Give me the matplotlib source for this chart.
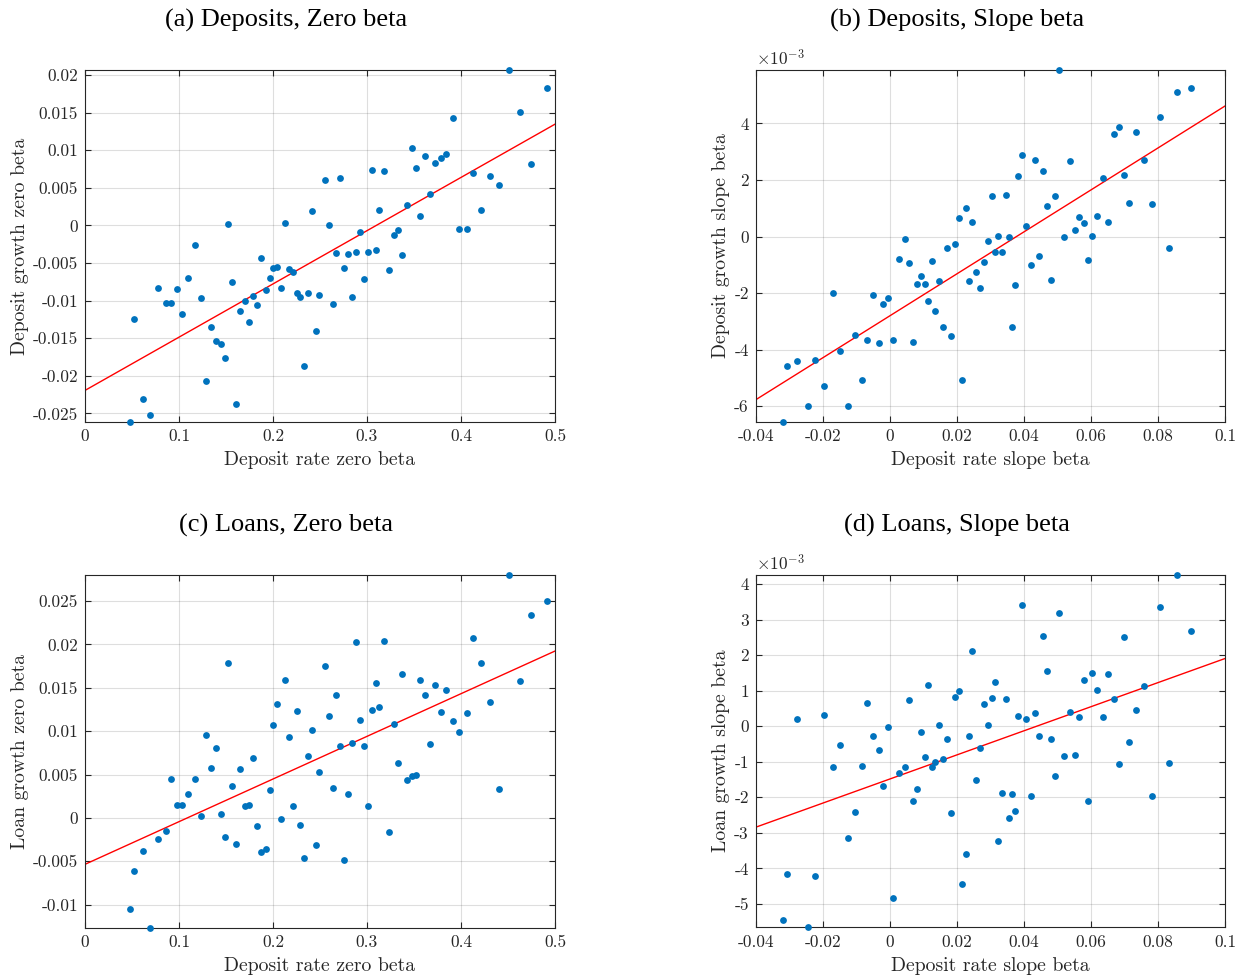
import matplotlib
matplotlib.use('Agg')
import matplotlib.pyplot as plt
import numpy as np
from matplotlib.ticker import FixedLocator, FuncFormatter

plt.rcParams['font.family'] = 'cmr10'
plt.rcParams['axes.unicode_minus'] = False
plt.rcParams['mathtext.fontset'] = 'cm'
plt.rcParams['axes.formatter.use_mathtext'] = True

# x values shared by the "zero beta" panels (a) and (c)
x_zero = np.array([
    0.0475, 0.0518, 0.0613, 0.0688, 0.0777, 0.0858, 0.0918, 0.0975, 0.1035, 0.1096,
    0.1170, 0.1234, 0.1290, 0.1337, 0.1390, 0.1443, 0.1486, 0.1525, 0.1567, 0.1610,
    0.1652, 0.1699, 0.1741, 0.1787, 0.1830, 0.1876, 0.1926, 0.1968, 0.2000, 0.2039,
    0.2082, 0.2124, 0.2170, 0.2213, 0.2252, 0.2291, 0.2330, 0.2372, 0.2418, 0.2461,
    0.2493, 0.2550, 0.2596, 0.2635, 0.2674, 0.2713, 0.2752, 0.2798, 0.2837, 0.2879,
    0.2926, 0.2965, 0.3011, 0.3057, 0.3092, 0.3131, 0.3184, 0.3234, 0.3284, 0.3326,
    0.3376, 0.3429, 0.3479, 0.3521, 0.3567, 0.3617, 0.3670, 0.3727, 0.3787, 0.3844,
    0.3911, 0.3982, 0.4060, 0.4131, 0.4216, 0.4305, 0.4408, 0.4507, 0.4628, 0.4745,
    0.4911])

dep_zero = np.array([
    -0.02615, -0.01239, -0.02305, -0.02527, -0.00836, -0.01035, -0.01027, -0.00845, -0.01177, -0.00695,
    -0.00261, -0.00965, -0.02066, -0.01358, -0.01544, -0.01575, -0.01770, 0.00018, -0.00752, -0.02380,
    -0.01142, -0.01000, -0.01279, -0.00934, -0.01062, -0.00429, -0.00854, -0.00704, -0.00566, -0.00558,
    -0.00827, 0.00031, -0.00575, -0.00624, -0.00898, -0.00947, -0.01867, -0.00903, 0.00195, -0.01403,
    -0.00920, 0.00597, 0.00009, -0.01049, -0.00372, 0.00624, -0.00562, -0.00376, -0.00951, -0.00350,
    -0.00088, -0.00717, -0.00358, 0.00739, -0.00327, 0.00204, 0.00726, -0.00588, -0.00124, -0.00058,
    -0.00389, 0.00265, 0.01022, 0.00765, 0.00128, 0.00920, 0.00420, 0.00827, 0.00889, 0.00947,
    0.01425, -0.00049, -0.00049, 0.00690, 0.00199, 0.00650, 0.00535, 0.02066, 0.01513, 0.00814,
    0.01832])

loan_zero = np.array([
    -0.01046, -0.00612, -0.00381, -0.01265, -0.00238, -0.00154, 0.00454, 0.00154, 0.00154, 0.00281,
    0.00454, 0.00019, 0.00950, 0.00577, 0.00804, 0.00050, -0.00223, 0.01785, 0.00369, -0.00296,
    0.00565, 0.00142, 0.00154, 0.00688, -0.00092, -0.00388, -0.00354, 0.00319, 0.01069, 0.01315,
    -0.00015, 0.01585, 0.00927, 0.00138, 0.01231, -0.00081, -0.00458, 0.00719, 0.01008, -0.00312,
    0.00531, 0.01754, 0.01177, 0.00346, 0.01415, 0.00827, -0.00485, 0.00273, 0.00865, 0.02031,
    0.01123, 0.00831, 0.00138, 0.01242, 0.01554, 0.01273, 0.02038, -0.00158, 0.01081, 0.00638,
    0.01662, 0.00442, 0.00485, 0.00496, 0.01592, 0.01412, 0.00850, 0.01531, 0.01223, 0.01469,
    0.01119, 0.00992, 0.01204, 0.02073, 0.01781, 0.01338, 0.00335, 0.02800, 0.01573, 0.02338,
    0.02496])

# x values shared by the "slope beta" panels (b) and (d)
x_slope = np.array([
    -0.03194, -0.03055, -0.02756, -0.02448, -0.02219, -0.01960, -0.01702, -0.01483, -0.01244, -0.01035,
    -0.00836, -0.00667, -0.00508, -0.00338, -0.00199, -0.00040, 0.00109, 0.00269, 0.00438, 0.00577,
    0.00696, 0.00816, 0.00935, 0.01035, 0.01134, 0.01244, 0.01353, 0.01473, 0.01572, 0.01701,
    0.01821, 0.01940, 0.02060, 0.02159, 0.02259, 0.02358, 0.02458, 0.02577, 0.02677, 0.02806,
    0.02935, 0.03035, 0.03134, 0.03234, 0.03343, 0.03453, 0.03542, 0.03642, 0.03731, 0.03831,
    0.03950, 0.04069, 0.04209, 0.04328, 0.04438, 0.04557, 0.04676, 0.04796, 0.04915, 0.05044,
    0.05204, 0.05373, 0.05512, 0.05652, 0.05791, 0.05910, 0.06030, 0.06189, 0.06368, 0.06517,
    0.06687, 0.06836, 0.06985, 0.07144, 0.07333, 0.07592, 0.07831, 0.08060, 0.08318, 0.08577,
    0.08985])

# in units of 1e-3
dep_slope = np.array([
    -6.541, -4.565, -4.412, -5.976, -4.353, -5.271, -1.976, -4.059, -5.976, -3.494,
    -5.059, -3.659, -2.059, -3.776, -2.365, -2.165, -3.659, -0.788, -0.082, -0.929,
    -3.741, -1.671, -1.400, -1.671, -2.271, -0.859, -2.612, -1.576, -3.200, -0.412,
    -3.506, -0.259, 0.671, -5.082, 1.000, -1.576, 0.529, -1.235, -1.800, -0.882,
    -0.141, 1.424, -0.553, 0.012, -0.553, 1.482, -0.024, -3.188, -1.706, 2.141,
    2.882, 0.365, -1.012, 2.706, -0.694, 2.329, 1.071, -1.529, 1.435, 5.906,
    0.000, 2.682, 0.247, 0.694, 0.482, -0.812, 0.012, 0.718, 2.059, 0.529,
    3.624, 3.871, 2.188, 1.188, 3.682, 2.706, 1.165, 4.224, -0.400, 5.118,
    5.259]) * 1e-3

loan_slope = np.array([
    -5.441, -4.146, 0.197, -5.657, -4.212, 0.319, -1.144, -0.525, -3.152, -2.411,
    -1.107, 0.657, -0.281, -0.657, -1.679, -0.009, -4.822, -1.323, -1.144, 0.750,
    -2.111, -1.773, -0.169, -0.872, 1.154, -1.154, -1.013, 0.047, -0.910, -0.356,
    -2.430, 0.807, 0.985, -4.447, -3.583, -0.281, 2.111, -1.501, -0.600, 0.629,
    0.028, 0.779, 1.238, -3.227, -1.867, 0.769, -2.589, -1.904, -2.373, 0.281,
    3.396, 0.206, -1.951, 0.366, -0.272, 2.533, 1.557, -0.366, -1.388, 3.189,
    -0.826, 0.394, -0.807, 0.263, 1.285, -2.111, 1.482, 1.013, 0.263, 1.473,
    0.769, -1.051, 2.514, -0.441, 0.460, 1.144, -1.951, 3.340, -1.023, 4.259,
    2.674]) * 1e-3

# fitted lines (intercept, slope)
fit_a = (-0.02195, 0.0708)
fit_b = (-2.80e-3, 0.0742)
fit_c = (-0.00535, 0.04916)
fit_d = (-1.486e-3, 0.0339)

titles = ['(a) Deposits, Zero beta', '(b) Deposits, Slope beta',
          '(c) Loans, Zero beta', '(d) Loans, Slope beta']
xlabels = ['Deposit rate zero beta', 'Deposit rate slope beta',
           'Deposit rate zero beta', 'Deposit rate slope beta']
ylabels = ['Deposit growth zero beta', 'Deposit growth slope beta',
           'Loan growth zero beta', 'Loan growth slope beta']

DARK = '#262626'


def panel(ax, x, y, fit, xlim, xticks, yticks, title, xlabel, ylabel, scale=1.0):
    ax.scatter(x, y, s=24, color='#0072BD', linewidths=0, clip_on=False, zorder=3)
    xs = np.array(xlim)
    ax.plot(xs, fit[0] + fit[1] * xs, color='red', lw=1.0, zorder=2)
    ax.set_xlim(xlim)
    ax.set_ylim(y.min(), y.max())
    ax.xaxis.set_major_locator(FixedLocator(xticks))
    ax.yaxis.set_major_locator(FixedLocator(yticks))
    ax.xaxis.set_major_formatter(FuncFormatter(lambda v, p: '%g' % round(v, 6)))
    ax.yaxis.set_major_formatter(FuncFormatter(lambda v, p: '%g' % round(v * scale, 6)))
    ax.grid(True, color=DARK, alpha=0.15, lw=0.8)
    ax.set_axisbelow(True)
    ax.tick_params(direction='in', top=True, right=True, length=4, width=0.8,
                   color=DARK, labelcolor=DARK, labelsize=12.5, pad=5)
    for s in ax.spines.values():
        s.set_color(DARK)
        s.set_linewidth(0.8)
    # titles sit a bit left of the axes centre (centred over the whole tile)
    ax.set_title(title, family='Liberation Serif', fontsize=19, pad=31,
                 color='black', x=0.428)
    ax.set_xlabel(xlabel, fontsize=14.2, color=DARK, labelpad=5)
    ax.set_ylabel(ylabel, fontsize=14.2, color=DARK, labelpad=3)
    if scale != 1.0:
        ax.text(0, 1.004, r'$\times10^{-3}$', transform=ax.transAxes, ha='left',
                va='bottom', fontsize=12.5, color=DARK)


fig = plt.figure(figsize=(12.44, 9.76), dpi=100)
ax_a = fig.add_axes([0.0683, 0.5676, 0.3778, 0.3607])
ax_b = fig.add_axes([0.6075, 0.5680, 0.3773, 0.3607])
ax_c = fig.add_axes([0.0683, 0.0495, 0.3778, 0.3614])
ax_d = fig.add_axes([0.6075, 0.0499, 0.3773, 0.3612])

zero_xt = np.arange(0, 0.51, 0.1)
slope_xt = np.arange(-0.04, 0.101, 0.02)

panel(ax_a, x_zero, dep_zero, fit_a, (0, 0.5), zero_xt,
      np.arange(-0.025, 0.0201, 0.005), titles[0], xlabels[0], ylabels[0])
panel(ax_b, x_slope, dep_slope, fit_b, (-0.04, 0.1), slope_xt,
      np.arange(-6, 4.1, 2) * 1e-3, titles[1], xlabels[1], ylabels[1], scale=1e3)
panel(ax_c, x_zero, loan_zero, fit_c, (0, 0.5), zero_xt,
      np.arange(-0.01, 0.0251, 0.005), titles[2], xlabels[2], ylabels[2])
panel(ax_d, x_slope, loan_slope, fit_d, (-0.04, 0.1), slope_xt,
      np.arange(-5, 4.1, 1) * 1e-3, titles[3], xlabels[3], ylabels[3], scale=1e3)

fig.savefig('out.png', dpi=100)
